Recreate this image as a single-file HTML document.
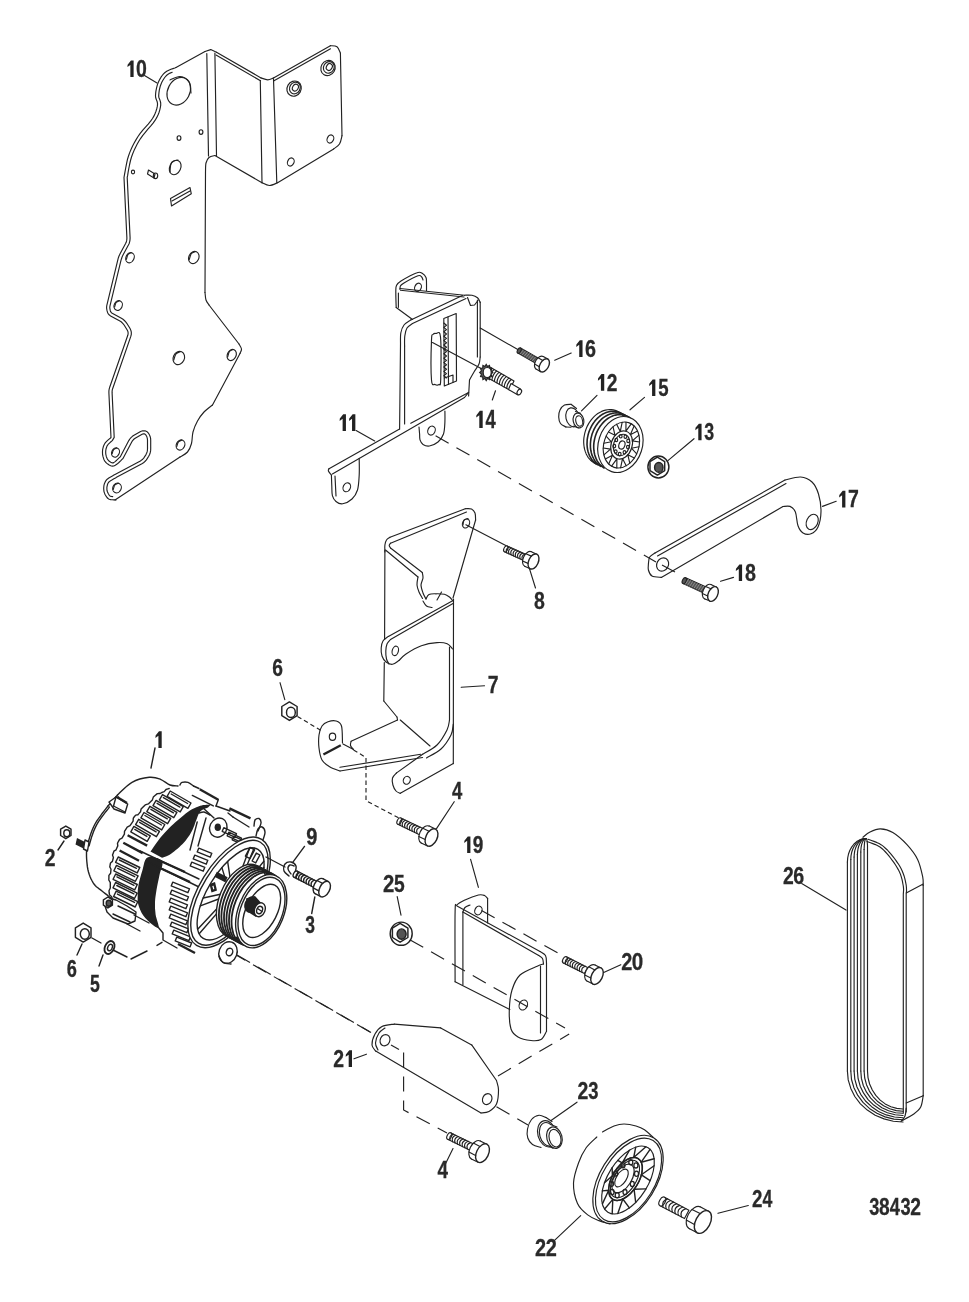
<!DOCTYPE html>
<html><head><meta charset="utf-8"><style>
html,body{margin:0;padding:0;background:#fff;}
svg{display:block;will-change:transform}
.lk{fill:none;stroke:#222;stroke-width:2.4;stroke-linecap:butt}
.gd{fill:#555;stroke:#222;stroke-width:1.1}
.lt{fill:none;stroke:#999;stroke-width:0.8}
.l{fill:none;stroke:#222;stroke-width:1.15;stroke-linejoin:round;stroke-linecap:round}
.lf{fill:#fff;stroke:#222;stroke-width:1.15;stroke-linejoin:round}
.k{fill:#222;stroke:none}
.g{fill:#666;stroke:#222;stroke-width:1}
.d{fill:none;stroke:#222;stroke-width:1.15;stroke-dasharray:15 9}
.alt .l,.alt .lf{stroke-width:1.4}
.ds{fill:none;stroke:#222;stroke-width:1.15;stroke-dasharray:4.5 3}
.t{font-family:"Liberation Sans",sans-serif;font-weight:bold;fill:#2a2a2a;stroke:#2a2a2a;stroke-width:0.3}
</style></head><body>
<svg width="969" height="1302" viewBox="0 0 969 1302">
<path class="l" d="M216.5 52.3L261 77.9"/>
<path class="l" d="M261 77.9C262.1 78.2 265.6 79.8 267.7 79.8C269.8 79.8 272.5 78.2 273.5 77.9"/>
<path class="l" d="M273.5 77.9L330.4 45.7"/>
<path class="l" d="M330.4 45.7C331.5 45.9 335.3 45.6 337 46.8C338.7 48 339.8 52 340.4 53"/>
<path class="l" d="M340.4 53L342 135.7"/>
<path class="l" d="M342 135.7C341.6 137.1 340.9 141.8 339.5 144C338.1 146.2 334.7 148.1 333.7 148.9"/>
<path class="l" d="M333.7 148.9L277.6 182.7"/>
<path class="l" d="M277.6 182.7C276.2 183.2 272 185.5 269.4 185.5C266.8 185.5 263.2 183.2 262 182.7"/>
<path class="l" d="M262 182.7L214.9 155.5"/>
<path class="l" d="M214.9 155.5C213.9 155.8 210.5 156.2 209 157.5C207.5 158.8 206.6 160.6 206 163C205.4 165.4 205.6 170.5 205.5 172"/>
<path class="l" d="M205.5 172L205 292.5"/>
<path class="l" d="M205 292.5C205.2 293.8 205.3 297.9 206 300C206.7 302.1 208.5 304.2 209 305"/>
<path class="l" d="M209 305L239 344"/>
<path class="l" d="M239 344C239.4 344.8 241.3 347.4 241.5 349C241.7 350.6 240.2 352.8 240 353.5"/>
<path class="l" d="M240 353.5L212.5 405"/>
<path class="l" d="M212.5 405C211.1 406.2 206.5 409.3 204 412C201.5 414.7 199.3 417.7 197.5 421C195.7 424.3 194 428.2 193 432C192 435.8 192.4 440.2 191.5 443.5C190.6 446.8 189.4 449.8 187.5 452C185.6 454.2 181.2 456.2 180 457"/>
<path class="l" d="M180 457L115 500"/>
<path class="l" d="M205 51.5L176 67.5"/>
<path class="l" d="M210.7 49.6L205 51.5"/>
<path class="l" d="M216.5 52.3L210.7 49.6"/>
<path class="l" d="M176 67.5L174.8 68L173 68.6L170.9 69.3L168.8 70.2L166.7 71.3L165 72.5L163.5 73.9L162.2 75.5L161 77.2L159.9 79.1L158.9 81L158 83L157.3 85.1L156.7 87.3L156.2 89.6L155.8 91.9L155.6 94L155.5 96L155.7 97.7L156.1 99.1L156.7 100.5L157.2 101.8L157.5 103.3L157.5 105L157.2 106.9L156.7 109L156 111.2L155.1 113.5L154 115.9L152.5 118.5L150.6 121.2L148.2 124.1L145.5 127.1L142.8 130.2L140.2 133.4L138 136.5L136.1 139.6L134.3 142.8L132.6 146L131.1 149.3L129.7 152.6L128.5 156L127.4 159.7L126.5 163.8L125.7 168L125 171.9L124.4 175.1L124 177.5L126.9 238L126.8 239.5L126.6 240.9L126.2 242.3L125.6 243.6L120.2 253.6L119.5 254.9L118.9 256.3L118.4 257.7L118 259.2L107 304.6L106.7 306L106.6 307.5L106.7 309L107 310.4L107.3 311.6L107.8 313L108.5 314.1L109.4 315.1L110.6 315.9L119.9 321.1L121.1 321.8L122.2 322.8L123.2 323.8L124.1 325L127.2 330L127.8 331.2L128.1 332.6L128.1 333.9L127.8 335.3L109.7 387.2L109.3 388.6L109 390L108.9 391.5L108.9 393L111 437.5L110.2 438.2L109.1 439.1L107.9 440.2L106.6 441.4L105.4 442.7L104.5 444L103.8 445.4L103.3 446.8L102.9 448.3L102.6 449.9L102.5 451.5L102.5 453L102.6 454.6L102.9 456.2L103.4 457.8L103.9 459.4L104.6 460.8L105.5 462L106.6 463.1L107.8 464.1L109.2 465L110.7 465.7L112.3 466.1L113.8 466L115.3 465.3L117.1 464.1L118.9 462.5L120.6 460.9L122 459.4L123 458.5L131.6 442.2L132.4 440.9L133.3 439.8L134.4 438.8L135.6 438L142.1 434.3L143.3 433.9L144.3 433.9L145.2 434.3L146 435.2L146 435.2L146.7 436.4L147.1 437.6L147.4 438.9L147.5 440.2L147.5 449L147.4 450.5L147.1 451.9L146.6 453.3L146 454.6L144.5 456.9L143.7 458.1L142.7 459.2L141.6 460.1L140.4 460.9L115 474.5L113.9 475.1L112.4 475.9L110.6 476.9L108.8 478L107.2 479.2L106 480.5L105.2 481.9L104.5 483.4L104 485.1L103.8 486.8L103.7 488.4L103.8 490L104 491.6L104.5 493.2L105.2 494.8L106.1 496.2L107 497.5L108 498.5L109.2 499.2L110.7 499.6L112.3 499.8L113.8 499.9L115.1 499.9L116 500"/>
<path class="l" d="M172.2 72.3L170.1 73.1L168.4 74L167 75L165.9 76.1L164.7 77.5L163.7 79L162.6 80.7L161.7 82.4L161 84.2L160.3 86L159.8 88L159.3 90.2L159 92.3L158.8 94.3L158.7 96L158.8 97.1L159.1 98L159.6 99.3L160.2 100.9L160.7 103L160.7 105.3L160.3 107.6L159.8 109.8L159.1 112.2L158.1 114.8L156.8 117.4L155.2 120.2L153.1 123.2L150.6 126.2L147.9 129.2L145.3 132.3L142.8 135.3L140.7 138.3L138.8 141.3L137.1 144.3L135.5 147.4L134 150.6L132.7 153.8L131.5 157L130.5 160.5L129.6 164.5L128.8 168.5L128.1 172.4L127.6 175.7L127.2 177.4L130.1 237.9L130 239.8L129.7 241.6L129.2 243.4L128.4 245.1L123 255.1L122.4 256.3L121.9 257.5L121.5 258.7L121.1 259.9L110.1 305.3L109.9 306.4L109.8 307.5L109.9 308.6L110.1 309.7L110.3 310.7L110.6 311.6L111 312.2L111.5 312.7L112.2 313.2L121.4 318.3L123 319.3L124.4 320.5L125.7 321.8L126.8 323.3L129.9 328.3L130.8 330.2L131.3 332.2L131.3 334.3L130.8 336.4L112.8 388.2L112.4 389.4L112.2 390.5L112.1 391.7L112.1 392.9L114.2 437.4L112.3 440.6L111.2 441.5L110 442.6L108.9 443.7L107.9 444.7L107.3 445.6L106.8 446.6L106.4 447.8L106 449L105.8 450.3L105.7 451.6L105.7 452.8L105.8 454.1L106.1 455.5L106.4 456.9L106.9 458.1L107.4 459.1L108 459.9L108.7 460.7L109.7 461.5L110.8 462.2L111.8 462.7L112.6 462.9L113 462.9L113.7 462.6L115.1 461.6L116.7 460.2L118.3 458.6L119.8 457.2L120.2 456.9L128.8 440.6L129.8 439L131 437.6L132.4 436.3L134 435.3L140.6 431.5L142.6 430.8L145 430.8L147.2 431.8L148.4 433.1L148.8 433.7L149.5 435L150.2 436.7L150.6 438.4L150.7 440.2L150.7 449L150.6 450.9L150.2 452.7L149.6 454.5L148.7 456.2L147.2 458.6L146.2 460.1L144.9 461.5L143.5 462.7L141.9 463.7L116.5 477.3L115.5 477.9L113.9 478.7L112.3 479.7L110.6 480.7L109.3 481.6L108.5 482.5L108 483.3L107.5 484.5L107.2 485.8L106.9 487.1L106.9 488.5L106.9 489.6L107.1 490.8L107.5 492L108.1 493.3L108.8 494.5L109.4 495.4L109.9 495.9L110.4 496.2L111.3 496.4L112.7 496.6"/>
<path class="l" d="M216 55L260.5 80.8"/>
<path class="l" d="M274 80.8L330.5 48.8"/>
<path class="l" d="M206.8 53.5L208.5 156"/>
<path class="l" d="M214.9 53L216.5 155.5"/>
<path class="l" d="M260.3 80.5L262 182.7"/>
<path class="l" d="M273.5 78.7L276.8 182.7"/>
<ellipse class="l" cx="178.8" cy="91.3" rx="11.0" ry="14.5" transform="rotate(28 178.8 91.3)"/>
<path class="l" d="M170 80C171.7 79.4 176.8 76.2 180 76.5C183.2 76.8 187.2 79.2 189 82C190.8 84.8 190.7 91.2 191 93"/>
<ellipse class="l" cx="179.0" cy="138.0" rx="1.9" ry="2.3"/>
<ellipse class="l" cx="201.0" cy="132.0" rx="1.9" ry="2.3"/>
<ellipse class="l" cx="133.0" cy="172.0" rx="1.6" ry="1.9"/>
<path class="l" d="M148.5 170L155 174L154 178L147.5 174Z"/>
<ellipse class="l" cx="155.5" cy="175.8" rx="2.2" ry="2.8"/>
<ellipse class="l" cx="175.2" cy="167.5" rx="5.5" ry="7.5" transform="rotate(25 175.2 167.5)"/>
<path class="l" d="M170 172C170.2 170.4 170.2 164.5 171.5 162.5C172.8 160.5 176.9 160.4 178 160"/>
<path class="l" d="M170.5 198.5L190 187.5L191.3 193.8L171.5 206Z"/>
<path class="l" d="M172 201L190 191"/>
<ellipse class="l" cx="130.0" cy="257.7" rx="4.0" ry="5.3" transform="rotate(25 130 257.7)"/>
<path class="l" d="M126.4 259.3C126.7 258.5 127.2 255.6 128 254.5C128.8 253.4 130.7 253 131.2 252.7"/>
<ellipse class="l" cx="193.8" cy="257.5" rx="5.0" ry="6.3" transform="rotate(25 193.8 257.5)"/>
<path class="l" d="M189.3 259.4C189.6 258.4 190.3 255 191.3 253.7C192.3 252.4 194.6 251.9 195.3 251.5"/>
<ellipse class="l" cx="118.2" cy="305.5" rx="4.0" ry="5.0" transform="rotate(25 118.2 305.5)"/>
<path class="l" d="M114.6 307C114.9 306.2 115.4 303.5 116.2 302.5C117 301.5 118.9 301 119.4 300.8"/>
<ellipse class="l" cx="178.8" cy="358.0" rx="5.6" ry="6.8" transform="rotate(25 178.8 358)"/>
<path class="l" d="M173.8 360C174.1 359 174.9 355.3 176 353.9C177.1 352.5 179.7 351.9 180.5 351.5"/>
<ellipse class="l" cx="231.7" cy="355.0" rx="4.4" ry="5.8" transform="rotate(25 231.7 355)"/>
<path class="l" d="M227.7 356.7C228 355.9 228.6 352.7 229.5 351.5C230.4 350.3 232.4 349.8 233 349.5"/>
<ellipse class="l" cx="115.5" cy="452.5" rx="3.8" ry="4.8" transform="rotate(25 115.5 452.5)"/>
<path class="l" d="M112.1 453.9C112.3 453.2 112.8 450.6 113.6 449.6C114.4 448.6 116.1 448.2 116.6 447.9"/>
<ellipse class="l" cx="117.0" cy="488.0" rx="4.2" ry="5.0" transform="rotate(25 117 488)"/>
<path class="l" d="M113.2 489.5C113.5 488.8 114.1 486 114.9 485C115.7 484 117.7 483.5 118.3 483.2"/>
<ellipse class="l" cx="180.5" cy="445.0" rx="4.2" ry="5.2" transform="rotate(25 180.5 445)"/>
<path class="l" d="M176.7 446.6C177 445.8 177.6 443 178.4 441.9C179.2 440.8 181.2 440.4 181.8 440.1"/>
<ellipse class="l" cx="294.1" cy="88.6" rx="7.0" ry="7.8" transform="rotate(30 294.1 88.6)"/>
<ellipse class="l" cx="294.9" cy="88.0" rx="5.2" ry="6.0" transform="rotate(30 294.90000000000003 88.0)"/>
<ellipse class="l" cx="295.4" cy="87.6" rx="2.8" ry="3.6" transform="rotate(30 295.40000000000003 87.6)"/>
<ellipse class="l" cx="328.0" cy="68.0" rx="7.0" ry="7.8" transform="rotate(30 328 68)"/>
<ellipse class="l" cx="328.8" cy="67.4" rx="5.2" ry="6.0" transform="rotate(30 328.8 67.4)"/>
<ellipse class="l" cx="329.3" cy="67.0" rx="2.8" ry="3.6" transform="rotate(30 329.3 67)"/>
<ellipse class="l" cx="330.4" cy="139.0" rx="3.2" ry="4.2" transform="rotate(25 330.4 139)"/>
<ellipse class="l" cx="290.8" cy="162.0" rx="3.2" ry="4.2" transform="rotate(25 290.8 162)"/>
<path class="l" d="M144.5 75.5L157 83"/>
<path class="k" d="M130.36 77.00L133.62 77.00L133.62 60.60L130.96 60.60L127.60 64.75L127.40 67.12L130.36 64.95Z"/>
<text class="t" transform="translate(135.97 76.77) scale(0.841 1)" font-size="23.16">0</text>
<path class="l" d="M396.2 307.5C396.1 304.9 395.8 295.7 395.8 292C395.9 288.3 395.6 287.3 396.5 285.5C397.4 283.7 397.6 283.1 401 281C404.4 278.9 413.4 273.9 417 272.7C420.6 271.4 421 272.7 422.5 273.5C424 274.3 425.3 275.9 426 277.5C426.7 279.1 426.4 280.8 426.5 283C426.6 285.2 426.5 289.2 426.5 290.5"/>
<path class="l" d="M400 289.5C400.1 288.9 399.8 286.9 400.5 285.8C401.2 284.7 401.1 284.7 404 283C406.9 281.3 415.1 276.8 418 275.8C420.9 274.8 420.7 276.1 421.5 276.8C422.3 277.5 422.8 279.5 423 280"/>
<path class="l" d="M398.4 293L398.4 307.3"/>
<path class="l" d="M396.2 307.5L412.5 319.5"/>
<ellipse class="l" cx="418.0" cy="287.3" rx="3.2" ry="4.3" transform="rotate(25 418 287.3)"/>
<path class="l" d="M400 288.5L464.5 295.2"/>
<path class="l" d="M400.5 290.3L464 297"/>
<path class="l" d="M464.5 295.2C465.8 295.2 469.8 294.9 472 295.3C474.2 295.7 476.1 296.6 477.5 297.8C478.9 299 479.8 301.7 480.2 302.5"/>
<path class="l" d="M467.5 297.5L470.5 305.5L474.5 305L478 300.5"/>
<path class="l" d="M410.8 319.9L462.4 295.5"/>
<path class="l" d="M412.5 323.5L466 298.5"/>
<path class="l" d="M410.8 319.9C409.7 320.8 405.7 322.8 404 325C402.3 327.2 401.4 329.7 400.8 333C400.2 336.3 400.6 343 400.5 345"/>
<path class="l" d="M400.5 345L399.6 429"/>
<path class="l" d="M412.5 323.5C411.6 324.2 408.3 325.9 407 328C405.7 330.1 405.2 333 404.8 336C404.4 339 404.6 344.3 404.6 346"/>
<path class="l" d="M404.6 346L404.6 424"/>
<path class="l" d="M477.4 300L477.4 357"/>
<path class="l" d="M480.2 302L480.2 357"/>
<path class="l" d="M480.2 357C480 358.2 480 361.5 479 364C478 366.5 475.6 369.3 474 372C472.4 374.7 470.2 378.7 469.5 380"/>
<path class="l" d="M469.5 380L468.6 396"/>
<path class="l" d="M468.6 392.4L410.8 423.3"/>
<path class="l" d="M399.6 429L329 468.7"/>
<path class="l" d="M464.5 397.5L332.4 474"/>
<path class="l" d="M468.6 392.4L464.5 397.5"/>
<path class="l" d="M329 468.7C328.9 469.1 328 469.9 328.4 471C328.8 472.1 330.9 474.3 331.4 475"/>
<path class="l" d="M331.4 475C331.5 476.8 331.6 482.6 331.8 486C332 489.4 331.7 493 332.4 495.6C333.1 498.2 334.3 500.1 336 501.5C337.7 502.9 340 504.2 342.7 503.8C345.4 503.4 349.5 501.3 352 499C354.5 496.7 356.3 494 357.5 490C358.7 486 358.9 480.3 359.2 475C359.5 469.7 359.2 461.2 359.2 458.4"/>
<path class="l" d="M335 476L336 496"/>
<ellipse class="l" cx="346.8" cy="487.3" rx="3.6" ry="4.6" transform="rotate(25 346.8 487.3)"/>
<path class="l" d="M419 427C419.1 428.2 419.4 431.9 419.6 434C419.8 436.1 419.4 438.1 420 439.9C420.6 441.6 421.4 443.5 423 444.5C424.6 445.5 426.9 446.4 429.4 446C431.9 445.6 435.6 444 438 442C440.4 440 442.4 437.3 443.5 434C444.6 430.7 444.7 425.8 444.9 422C445.1 418.2 444.9 412.8 444.9 411"/>
<ellipse class="l" cx="431.5" cy="430.6" rx="3.6" ry="4.6" transform="rotate(25 431.5 430.6)"/>
<path class="l" d="M431.5 340C431.8 332.4 432.2 335.6 433 334.5C433.8 333.4 434.8 333.1 436 333.5C437.2 333.9 439.7 329.2 440.5 337C441.3 344.8 440.9 372.1 440.7 380C440.4 387.9 439.9 383.8 439 384.5C438.1 385.2 436.2 385.2 435 384.5C433.8 383.8 432.1 387.4 431.5 380C430.9 372.6 431.2 347.6 431.5 340Z"/>
<path class="l" d="M443.8 318.5L456.2 313.5L456.5 381L444.3 386Z"/>
<path class="l" d="M448 317L448.5 384.5"/>
<path class="l" d="M443.8 323L446.5 325.2L443.8 327.4L446.5 329.6L443.8 331.8L446.5 334L443.8 336.2L446.5 338.4L443.8 340.6L446.5 342.8L443.8 345L446.5 347.2L443.8 349.4L446.5 351.6L443.8 353.8L446.5 356L443.8 358.2L446.5 360.4L443.8 362.6L446.5 364.8L443.8 367L446.5 369.2L443.8 371.4L446.5 373.6L443.8 375.8L446.5 378"/>
<path class="l" d="M444.3 378L453 375L453 382.5"/>
<path class="l" d="M432.5 342.6L483 369.4"/>
<path class="l" d="M480.2 328L517.8 349.5"/>
<path class="lf" d="M489 366.5L514 381L509.5 390L484.5 376Z"/>
<path class="l" d="M491.6 368.1Q487.4 371.7 487.1 377.0"/>
<path class="l" d="M494.1 369.5Q489.9 373.1 489.5 378.4"/>
<path class="l" d="M496.6 371.0Q492.4 374.6 492.0 379.9"/>
<path class="l" d="M499.0 372.4Q494.8 376.0 494.4 381.3"/>
<path class="l" d="M501.4 373.8Q497.2 377.4 496.9 382.7"/>
<path class="l" d="M503.9 375.2Q499.7 378.8 499.3 384.1"/>
<path class="l" d="M506.3 376.6Q502.1 380.2 501.8 385.5"/>
<path class="l" d="M508.8 378.1Q504.6 381.7 504.2 387.0"/>
<path class="l" d="M511.2 379.5Q507.1 383.1 506.7 388.4"/>
<path class="gd" d="M492.8 372.5L491 374.1L491.9 376.6L489.7 376.9L489.5 379.6L487.5 378.5L486.2 380.7L484.9 378.5L482.9 379.6L482.7 376.9L480.5 376.6L481.4 374.1L479.6 372.5L481.4 370.9L480.5 368.4L482.7 368.1L482.9 365.4L484.9 366.5L486.2 364.3L487.5 366.5L489.5 365.4L489.7 368.1L491.9 368.4L491 370.9Z"/>
<ellipse class="lf" cx="487.2" cy="372.5" rx="4.0" ry="5.0"/>
<path class="lf" d="M511 383.5L520.5 389L518 395L508.5 389.5Z"/>
<ellipse class="lf" cx="519.3" cy="392.0" rx="2.0" ry="3.0" transform="rotate(30 519.3 392)"/>
<path class="l" d="M495.5 390.8L492.3 400"/>
<path class="gd" d="M517.8 353.1L536.1 363.5L538.9 358.5L520.6 348.1Z"/>
<ellipse class="gd" cx="519.2" cy="350.6" rx="1.7" ry="2.9" transform="rotate(29.609829621271984 519.2 350.6)"/>
<path class="lt" d="M519.8 354.3L523.5 349.7"/>
<path class="lt" d="M521.8 355.4L525.6 350.9"/>
<path class="lt" d="M523.9 356.6L527.6 352"/>
<path class="lt" d="M525.9 357.7L529.6 353.2"/>
<path class="lt" d="M527.9 358.9L531.7 354.4"/>
<path class="lt" d="M530 360.1L533.7 355.5"/>
<path class="lt" d="M532 361.2L535.7 356.7"/>
<path class="lt" d="M534 362.4L537.8 357.8"/>
<ellipse class="lf" cx="539.6" cy="362.7" rx="4.3" ry="7.2" transform="rotate(29.609829621271984 539.6051850473804 362.73190844222705)"/>
<path class="lf" d="M536 369L540.7 371.7L547.9 359.1L543.2 356.5Z" style="stroke:none"/>
<path class="l" d="M536 369L540.7 371.7"/>
<path class="l" d="M543.2 356.5L547.9 359.1"/>
<ellipse class="lf" cx="544.3" cy="365.4" rx="4.3" ry="7.2" transform="rotate(29.609829621271984 544.3 365.4)" style="stroke-width:1.4"/>
<path class="l" d="M534.6 364L539.3 366.7"/>
<path class="l" d="M538.1 357.7L542.8 360.4"/>
<path class="l" d="M554.7 360.2L571.2 353"/>
<path class="k" d="M579.22 357.00L582.54 357.00L582.54 340.30L579.82 340.30L576.40 344.53L576.20 346.94L579.22 344.73Z"/>
<text class="t" transform="translate(585.12 356.76) scale(0.838 1)" font-size="23.59">6</text>
<path class="l" d="M356.1 430.6L374.7 440.9"/>
<path class="k" d="M342.62 431.00L345.94 431.00L345.94 414.30L343.22 414.30L339.80 418.53L339.60 420.94L342.62 418.73Z"/>
<path class="k" d="M352.04 431.00L355.36 431.00L355.36 414.30L352.64 414.30L349.22 418.53L349.02 420.94L352.04 418.73Z"/>
<path class="k" d="M479.29 427.90L482.69 427.90L482.69 410.80L479.91 410.80L476.41 415.13L476.20 417.60L479.29 415.33Z"/>
<text class="t" transform="translate(485.57 427.90) scale(0.739 1)" font-size="24.85">4</text>
<path class="d" d="M435.6 435.7L656 562"/>
<path class="l" d="M571 404.3C569.9 404.4 566.3 404.1 564.5 405C562.7 405.9 561 408 560 410C559 412 558.6 414.8 558.7 417C558.8 419.2 559.3 421.8 560.5 423.5C561.7 425.2 565.1 426.4 566 427"/>
<path class="l" d="M571 404.3L576.5 408.5"/>
<path class="l" d="M566 427L571 427.2"/>
<ellipse class="lf" cx="572.5" cy="417.3" rx="6.6" ry="9.6" transform="rotate(-12 572.5 417.3)"/>
<path class="lf" d="M575.5 411.5L580.5 413.5L579 427.8L573.5 426.5Z" style="stroke:none"/>
<path class="l" d="M575.5 411.5L580.5 413.3"/>
<path class="l" d="M573.5 426.2L578.5 427.8"/>
<ellipse class="lf" cx="578.5" cy="420.5" rx="5.3" ry="7.5" transform="rotate(-12 578.5 420.5)"/>
<ellipse class="l" cx="579.2" cy="421.0" rx="3.4" ry="5.3" transform="rotate(-12 579.2 421)"/>
<path class="l" d="M581.5 410.8L597 395.3"/>
<path class="k" d="M600.92 390.70L604.24 390.70L604.24 374.00L601.52 374.00L598.10 378.23L597.90 380.64L600.92 378.43Z"/>
<text class="t" transform="translate(606.78 390.70) scale(0.804 1)" font-size="23.93">2</text>
<path class="l" d="M595.8 463.9L594.1 463L592.5 461.9L591 460.6L589.6 459.2L588.3 457.6L587.2 455.8L586.2 453.9L585.4 451.9L584.7 449.7L584.2 447.5L583.9 445.2L583.7 442.8L583.7 440.4L583.9 437.9L584.3 435.5L584.8 433.1L585.5 430.7L586.3 428.4L587.3 426.1L588.5 423.9L589.8 421.8L591.2 419.9L592.7 418.1L594.3 416.4L596 414.9L597.8 413.5L599.7 412.4L601.6 411.4L603.6 410.6L605.5 410.1L607.5 409.7L609.5 409.6L611.4 409.6L613.3 409.9L615.2 410.4L617 411.1L618.7 412L620.3 413.1L621.8 414.4L623.2 415.8L624.5 417.4L625.6 419.2"/>
<path class="l" d="M597.4 464.7L595.8 463.6L594.3 462.3L592.9 460.9L591.6 459.2L590.5 457.5L589.5 455.6L588.7 453.5L588 451.4L587.5 449.1L587.2 446.8L587 444.5L587.1 442L587.2 439.6L587.6 437.2L588.1 434.8L588.8 432.4L589.7 430L590.7 427.8L591.8 425.6L593.1 423.5L594.5 421.6L596 419.7L597.6 418.1L599.4 416.5L601.2 415.2L603 414L604.9 413.1L606.9 412.3L608.9 411.7L610.9 411.4L612.8 411.2L614.8 411.3L616.7 411.6L618.5 412.1L620.3 412.8L622 413.7L623.7 414.7L625.2 416L626.6 417.5" style="stroke-width:1.6"/>
<path class="l" d="M600.8 466.3L599.1 465.3L597.6 464L596.2 462.5L595 460.9L593.9 459.1L592.9 457.2L592 455.2L591.4 453L590.9 450.8L590.5 448.5L590.4 446.1L590.4 443.7L590.6 441.3L590.9 438.8L591.5 436.4L592.1 434L593 431.7L594 429.4L595.1 427.3L596.4 425.2L597.8 423.2L599.4 421.4L601 419.7L602.7 418.2L604.5 416.9L606.4 415.7L608.3 414.7L610.2 414L612.2 413.4L614.2 413L616.2 412.9L618.1 413L620 413.2L621.9 413.7L623.7 414.4L625.4 415.3L627 416.4L628.5 417.7L629.9 419.1" style="stroke-width:1.6"/>
<path class="l" d="M604.1 468L602.5 466.9L601 465.6L599.6 464.2L598.3 462.6L597.2 460.8L596.2 458.9L595.4 456.9L594.7 454.7L594.2 452.5L593.9 450.2L593.7 447.8L593.7 445.4L593.9 442.9L594.3 440.5L594.8 438.1L595.5 435.7L596.3 433.4L597.3 431.1L598.5 428.9L599.8 426.8L601.2 424.9L602.7 423.1L604.3 421.4L606 419.9L607.8 418.5L609.7 417.4L611.6 416.4L613.6 415.6L615.5 415.1L617.5 414.7L619.5 414.6L621.4 414.6L623.3 414.9L625.2 415.4L627 416.1L628.7 417L630.3 418.1L631.8 419.4L633.2 420.8" style="stroke-width:1.6"/>
<path class="l" d="M624.5 417.4L638.5 424.4"/>
<path class="l" d="M591 460.6L605 467.6"/>
<ellipse class="lf" cx="620.4" cy="444.5" rx="22.0" ry="28.5" transform="rotate(18 620.4 444.5)"/>
<ellipse class="l" cx="621.4" cy="445.0" rx="17.5" ry="23.5" transform="rotate(18 621.4 445.0)"/>
<ellipse class="l" cx="621.6" cy="445.0" rx="10.5" ry="14.5" transform="rotate(18 621.6 445.0)"/>
<ellipse class="l" cx="621.6" cy="445.0" rx="8.0" ry="11.0" transform="rotate(18 621.6 445.0)"/>
<ellipse class="l" cx="621.9" cy="445.0" rx="3.0" ry="4.2" transform="rotate(18 621.9 445.0)"/>
<path class="l" d="M639 446.8L631.4 448.2L636.7 453.8"/>
<path class="l" d="M634.3 458.1L627.8 454.7L629.8 463.3"/>
<path class="l" d="M626.2 465.8L622.5 458.6L620.6 467.8"/>
<path class="l" d="M616.8 467.9L616.9 458.8L611.6 466.2"/>
<path class="l" d="M608.7 463.9L612.5 455.3L605.3 459"/>
<path class="l" d="M603.9 454.9L610.5 449.1L603.3 448"/>
<path class="l" d="M603.8 443.2L611.4 441.8L606.1 436.2"/>
<path class="l" d="M608.5 431.9L615 435.3L613 426.7"/>
<path class="l" d="M616.6 424.2L620.3 431.4L622.2 422.2"/>
<path class="l" d="M626 422.1L625.9 431.2L631.2 423.8"/>
<path class="l" d="M634.1 426.1L630.3 434.7L637.5 431"/>
<path class="l" d="M638.9 435.1L632.3 440.9L639.5 442"/>
<ellipse class="l" cx="627.9" cy="447.1" rx="1.4" ry="1.7"/>
<ellipse class="l" cx="624.5" cy="452.3" rx="1.4" ry="1.7"/>
<ellipse class="l" cx="619.7" cy="454.1" rx="1.4" ry="1.7"/>
<ellipse class="l" cx="615.7" cy="451.6" rx="1.4" ry="1.7"/>
<ellipse class="l" cx="614.3" cy="446.1" rx="1.4" ry="1.7"/>
<ellipse class="l" cx="616.3" cy="440.0" rx="1.4" ry="1.7"/>
<ellipse class="l" cx="620.7" cy="436.3" rx="1.4" ry="1.7"/>
<ellipse class="l" cx="625.4" cy="436.7" rx="1.4" ry="1.7"/>
<ellipse class="l" cx="628.2" cy="440.9" rx="1.4" ry="1.7"/>
<path class="l" d="M630 409.8L644.5 397.4"/>
<path class="k" d="M652.08 396.00L655.36 396.00L655.36 379.50L652.68 379.50L649.30 383.67L649.10 386.06L652.08 383.87Z"/>
<text class="t" transform="translate(658.28 395.76) scale(0.787 1)" font-size="23.64">5</text>
<ellipse class="lf" cx="658.4" cy="467.0" rx="10.5" ry="11.0" style="stroke-width:1.45"/>
<path class="lf" d="M664.7 470.6L657.4 475.1L650 470.6L650 461.7L657.4 457.2L664.7 461.7Z" style="stroke-width:1.45"/>
<ellipse class="gd" cx="658.8" cy="467.4" rx="4.2" ry="4.9" style="stroke-width:1.45"/>
<path class="l" d="M668.2 460.4L694 438.7"/>
<path class="k" d="M698.28 440.20L701.56 440.20L701.56 423.70L698.88 423.70L695.50 427.87L695.30 430.26L698.28 428.07Z"/>
<text class="t" transform="translate(704.23 439.94) scale(0.766 1)" font-size="23.27">3</text>
<path class="l" d="M648.5 563C648.7 562 648.6 558.7 649.7 557C650.8 555.3 654.1 553.7 655 553"/>
<path class="l" d="M655 553L785 480"/>
<path class="l" d="M657.5 556L786 483.5"/>
<path class="l" d="M785 480C787.6 479.5 796.1 476.7 800.6 477C805.1 477.3 809 479.2 812 482C815 484.8 817 489.1 818.5 494C820 498.9 821.1 506.1 821 511.6C820.9 517.1 819.7 523.3 818 527C816.3 530.7 813.5 532.8 811 533.8C808.5 534.8 805.2 534.3 803 533C800.8 531.7 799.3 529.3 798 525.8C796.7 522.3 796.7 515.2 795.4 512C794.1 508.8 792.1 507.3 790 506.4C787.9 505.5 784.2 506.5 783 506.5"/>
<path class="l" d="M783 506.5L661.3 577.4"/>
<path class="l" d="M661.3 577.4C659.8 577.2 654.1 577.2 652 576C649.9 574.8 649 572.2 648.4 570C647.8 567.8 648.5 564.2 648.5 563"/>
<ellipse class="l" cx="662.6" cy="564.5" rx="5.8" ry="6.8" transform="rotate(30 662.6 564.5)"/>
<ellipse class="l" cx="812.2" cy="521.9" rx="5.6" ry="8.0" transform="rotate(25 812.2 521.9)"/>
<path class="l" d="M822.5 506.4L836.2 501.3"/>
<path class="k" d="M842.10 507.40L845.40 507.40L845.40 490.80L842.70 490.80L839.30 495.00L839.10 497.40L842.10 495.20Z"/>
<text class="t" transform="translate(847.91 507.40) scale(0.808 1)" font-size="24.13">7</text>
<path class="gd" d="M683 583.6L704.7 593.4L707.3 587.6L685.6 577.8Z"/>
<ellipse class="gd" cx="684.3" cy="580.7" rx="1.9" ry="3.2" transform="rotate(24.304549265936576 684.3 580.7)"/>
<path class="lt" d="M685.2 584.6L688.7 579.2"/>
<path class="lt" d="M687.3 585.6L690.9 580.2"/>
<path class="lt" d="M689.5 586.6L693 581.1"/>
<path class="lt" d="M691.7 587.5L695.2 582.1"/>
<path class="lt" d="M693.8 588.5L697.4 583.1"/>
<path class="lt" d="M696 589.5L699.5 584.1"/>
<path class="lt" d="M698.2 590.5L701.7 585.1"/>
<path class="lt" d="M700.3 591.5L703.9 586"/>
<path class="lt" d="M702.5 592.4L706.1 587"/>
<ellipse class="lf" cx="707.7" cy="591.6" rx="4.7" ry="7.8" transform="rotate(24.304549265936576 707.6684819919967 591.592217673805)"/>
<path class="lf" d="M704.5 598.7L709.8 601.1L716.2 586.9L710.9 584.5Z" style="stroke:none"/>
<path class="l" d="M704.5 598.7L709.8 601.1"/>
<path class="l" d="M710.9 584.5L716.2 586.9"/>
<ellipse class="lf" cx="713.0" cy="594.0" rx="4.7" ry="7.8" transform="rotate(24.304549265936576 713 594)" style="stroke-width:1.4"/>
<path class="l" d="M702.4 593.5L707.7 595.9"/>
<path class="l" d="M705.6 586.4L710.9 588.8"/>
<path class="l" d="M720.6 581.3L733.5 577.4"/>
<path class="k" d="M738.80 581.10L742.10 581.10L742.10 564.50L739.40 564.50L736.00 568.70L735.80 571.10L738.80 568.90Z"/>
<text class="t" transform="translate(744.97 580.87) scale(0.839 1)" font-size="23.45">8</text>
<path class="d" d="M662 565L675 572"/>
<path class="l" d="M384.9 552C384.9 550.8 384.6 547 384.9 545C385.2 543 385.6 541.3 386.5 540C387.4 538.7 389.4 537.8 390 537.3"/>
<path class="l" d="M390 537.3L465.3 508.7"/>
<path class="l" d="M465.3 508.7C466.3 508.8 469.9 508.3 471.5 509C473.1 509.7 474.3 511.2 475 513C475.7 514.8 475.5 518.8 475.6 520"/>
<path class="l" d="M475.6 520L453 598"/>
<path class="l" d="M390.5 543.2L466.5 512"/>
<path class="l" d="M390.5 543.2C390.3 543.6 389.2 544.7 389.2 545.5C389.2 546.3 390.3 547.6 390.5 548"/>
<path class="l" d="M390.5 548L422.3 572.5"/>
<path class="l" d="M385.5 550L418 577"/>
<path class="l" d="M422.3 572.5C422.4 573.4 423.2 575.9 423 578C422.8 580.1 421 582.5 421 585C421 587.5 422.2 590.7 423 593C423.8 595.3 425.5 598 426 599"/>
<path class="l" d="M418 577C417.8 578.3 416.8 582.5 417 585C417.2 587.5 418.1 589.8 419 592C419.9 594.2 421.9 597.4 422.5 598.5"/>
<path class="l" d="M426 599C426.5 598.2 427.3 595.4 429 594.5C430.7 593.6 433.4 593.8 436 593.8C438.6 593.8 442.1 593.7 444.4 594.2C446.6 594.7 448.1 595.9 449.5 597C450.9 598.1 452.4 600.3 453 601"/>
<path class="l" d="M423 601C423.6 601.8 425 604.9 426.5 606C428 607.1 431.1 607.2 432 607.5"/>
<path class="l" d="M437 600L441.5 592"/>
<ellipse class="l" cx="466.0" cy="523.5" rx="3.4" ry="4.6" transform="rotate(25 466 523.5)"/>
<path class="l" d="M463 525C463.2 524.2 463.2 521.1 464 520C464.8 518.9 467.3 518.8 468 518.5"/>
<path class="l" d="M384.9 550L384.6 639.5"/>
<path class="l" d="M384.3 662.5L383.8 701"/>
<path class="l" d="M383.8 701L397 717"/>
<path class="l" d="M397 717L397.5 720"/>
<path class="l" d="M453.5 599L453.3 763.6"/>
<path class="l" d="M449.5 647L449.5 720"/>
<path class="l" d="M453.5 600.3L388.4 636.4"/>
<path class="l" d="M388.4 636.4C387.5 637.2 384.2 639.1 383 641C381.8 642.9 381.4 645.5 381.2 648C381 650.5 381.2 653.7 382 656C382.8 658.3 384.2 660.6 386 662C387.8 663.4 390.3 664.5 392.5 664.3C394.7 664 397.9 661.1 399 660.5"/>
<path class="l" d="M399 660.5C400.2 659.4 402.3 656.5 406 654C409.7 651.5 416.2 647.6 421.4 645.7C426.6 643.8 432.7 642.9 437 642.6C441.3 642.3 444.6 642.7 447.2 643.7C449.8 644.7 451.5 647.9 452.4 648.8"/>
<path class="l" d="M453 603.6L390.5 639.5"/>
<path class="l" d="M390.5 639.5C389.9 640.2 387.8 642.1 387 644C386.2 645.9 385.9 648.5 385.8 651C385.7 653.5 386 656.8 386.5 659C387 661.2 388.6 663.2 389 664"/>
<ellipse class="l" cx="395.3" cy="650.9" rx="3.1" ry="4.8" transform="rotate(15 395.3 650.9)"/>
<path class="l" d="M449.5 720C449.1 721.7 449.1 725.8 447 730C444.9 734.2 441.1 741 437 745C432.9 749 425 752.8 422.6 754.3"/>
<path class="l" d="M453.3 724C452.9 725.8 453.1 730.8 451 735C448.9 739.2 445.1 745.2 441 749C436.9 752.8 428.9 756.5 426.5 758"/>
<path class="l" d="M422.6 754.3L396.6 772.9"/>
<path class="l" d="M396.6 772.9C395.9 773.8 393.1 776 392.5 778C391.9 780 392.3 782.8 392.9 785C393.5 787.2 394.8 789.6 396 791C397.2 792.4 399.6 792.9 400.3 793.3"/>
<path class="l" d="M400.3 793.3L453.3 763.6"/>
<ellipse class="l" cx="406.8" cy="780.3" rx="3.4" ry="4.0" transform="rotate(25 406.8 780.3)"/>
<path class="l" d="M400.3 720L430 746"/>
<path class="l" d="M397.5 720L351.1 741.3"/>
<path class="l" d="M351.1 741.3C351 742 350.1 744.1 350.5 745.5C350.9 746.9 353 748.8 353.5 749.5"/>
<path class="l" d="M343 744L353.5 749.5"/>
<path class="l" d="M340 767.3L420.7 754.3"/>
<path class="l" d="M340 771L422.6 757.5"/>
<path class="l" d="M340 771C338.3 770.3 333 768.8 330 767C327 765.2 323.8 763.2 322 760C320.2 756.8 319.5 752.2 319 748C318.5 743.8 318.5 738.7 319 735C319.5 731.3 320.5 728.2 322 726C323.5 723.8 325.7 722.6 328 721.8C330.3 721 333.8 720.3 336 721C338.2 721.7 340.4 722.3 341.5 726C342.6 729.7 342.3 740.2 342.5 743"/>
<path class="lk" d="M323.4 754.5L340.8 745.2"/>
<ellipse class="l" cx="332.5" cy="736.7" rx="3.2" ry="3.6"/>
<text class="t" transform="translate(487.77 692.90) scale(0.814 1)" font-size="23.84">7</text>
<path class="l" d="M461.2 687.3L484.5 685.8"/>
<path class="l" d="M465.9 524.8L507.7 546.4"/>
<path class="lf" d="M504.5 551.8L524.7 560.9L527.3 555.1L507.1 546Z"/>
<ellipse class="lf" cx="505.8" cy="548.9" rx="1.9" ry="3.2" transform="rotate(24.251328679253838 505.8 548.9)"/>
<path class="l" d="M506.7 552.8Q505.1 548.6 509.4 547.0"/>
<path class="l" d="M509.0 553.8Q507.4 549.6 511.6 548.0"/>
<path class="l" d="M511.2 554.9Q509.6 550.6 513.8 549.0"/>
<path class="l" d="M513.5 555.9Q511.9 551.6 516.1 550.0"/>
<path class="l" d="M515.7 556.9Q514.1 552.6 518.3 551.0"/>
<path class="l" d="M518.0 557.9Q516.3 553.7 520.6 552.0"/>
<path class="l" d="M520.2 558.9Q518.6 554.7 522.8 553.1"/>
<path class="l" d="M522.4 559.9Q520.8 555.7 525.1 554.1"/>
<ellipse class="lf" cx="528.0" cy="559.0" rx="4.8" ry="8.0" transform="rotate(24.251328679253838 528.029484887005 559.0355600233537)"/>
<path class="lf" d="M524.7 566.3L530.2 568.8L536.8 554.2L531.3 551.7Z" style="stroke:none"/>
<path class="l" d="M524.7 566.3L530.2 568.8"/>
<path class="l" d="M531.3 551.7L536.8 554.2"/>
<ellipse class="lf" cx="533.5" cy="561.5" rx="4.8" ry="8.0" transform="rotate(24.251328679253838 533.5 561.5)" style="stroke-width:1.4"/>
<path class="l" d="M522.6 561L528 563.4"/>
<path class="l" d="M525.9 553.7L531.3 556.1"/>
<path class="l" d="M529.3 568.1L535.5 588"/>
<text class="t" transform="translate(533.98 608.67) scale(0.841 1)" font-size="23.16">8</text>
<path class="lf" d="M297.1 715.7L289.4 720.4L281.8 715.7L281.8 706.5L289.4 701.9L297.1 706.5Z" style="stroke-width:1.45"/>
<ellipse class="l" cx="290.9" cy="712.4" rx="4.4" ry="5.1" style="stroke-width:1.45"/>
<path class="l" d="M280 682.7L284.8 699.7"/>
<text class="t" transform="translate(272.29 675.76) scale(0.816 1)" font-size="23.59">6</text>
<path class="ds" d="M297.5 716.5L322 731"/>
<path class="ds" d="M353.5 750L366 757.5L366 800.7L399 818"/>
<path class="lf" d="M397.8 824.3L419.5 834.7L422.5 828.3L400.8 817.9Z"/>
<ellipse class="lf" cx="399.3" cy="821.1" rx="2.1" ry="3.5" transform="rotate(25.60666098830906 399.3 821.1)"/>
<path class="l" d="M400.2 825.4Q398.6 820.7 403.2 819.1"/>
<path class="l" d="M402.6 826.6Q401.0 821.9 405.6 820.3"/>
<path class="l" d="M405.0 827.7Q403.4 823.1 408.0 821.4"/>
<path class="l" d="M407.4 828.9Q405.8 824.2 410.5 822.6"/>
<path class="l" d="M409.8 830.0Q408.2 825.4 412.9 823.7"/>
<path class="l" d="M412.3 831.2Q410.6 826.5 415.3 824.9"/>
<path class="l" d="M414.7 832.3Q413.0 827.7 417.7 826.0"/>
<path class="l" d="M417.1 833.5Q415.4 828.8 420.1 827.2"/>
<ellipse class="lf" cx="425.2" cy="834.5" rx="5.6" ry="9.3" transform="rotate(25.60666098830906 425.2100685434781 834.4854706383489)"/>
<path class="lf" d="M421.2 842.9L427.5 845.9L435.5 829.1L429.2 826.1Z" style="stroke:none"/>
<path class="l" d="M421.2 842.9L427.5 845.9"/>
<path class="l" d="M429.2 826.1L435.5 829.1"/>
<ellipse class="lf" cx="431.5" cy="837.5" rx="5.6" ry="9.3" transform="rotate(25.60666098830906 431.5 837.5)" style="stroke-width:1.4"/>
<path class="l" d="M418.8 836.6L425.1 839.6"/>
<path class="l" d="M422.8 828.2L429.1 831.2"/>
<path class="l" d="M454.2 801.7L436.5 828.6"/>
<text class="t" transform="translate(452.12 798.80) scale(0.766 1)" font-size="24.13">4</text>
<path class="l" d="M455.1 981.7C455.1 970.1 454.8 924.8 455.1 912C455.4 899.2 455.4 907 457 905C458.6 903 461.4 901.7 465 900C468.6 898.3 475.1 895.8 478.4 895C481.6 894.2 483 894.9 484.5 895.5C486 896.1 487.1 898 487.6 898.5"/>
<path class="l" d="M487.6 898.5L487.6 922.9"/>
<path class="l" d="M462.9 912L462.9 984.8"/>
<path class="l" d="M462.9 912C463.2 911.2 463.8 908.7 465 907.5C466.2 906.3 469.2 905.4 470 905"/>
<path class="l" d="M462.9 912L538.7 955.4"/>
<path class="l" d="M457 906L540 951.5"/>
<path class="l" d="M538.7 955.4C539.3 955.9 541.7 957.1 542.5 958.5C543.3 959.9 543.3 963.1 543.5 964"/>
<path class="l" d="M540 951.5C540.9 952.2 544.4 953.6 545.5 955.5C546.6 957.4 546.3 961.8 546.5 963"/>
<path class="l" d="M546.5 963L546.5 1031.2"/>
<path class="l" d="M540.5 966L540.5 1033"/>
<path class="l" d="M546.5 1031.2C545.6 1032.6 543.6 1038 541 1039.5C538.4 1041 534.8 1040.9 531 1040.5C527.2 1040.1 521.3 1038.9 518 1037C514.7 1035.1 512.5 1033.5 511 1029C509.6 1024.5 509.1 1016.5 509.3 1010C509.5 1003.5 510.2 995.8 512 990C513.8 984.2 515.8 979 520 975C524.2 971 533.3 968 537.2 966.2C541.1 964.4 542.5 964.4 543.5 964"/>
<path class="l" d="M455.1 981.7L509.8 1009.6"/>
<ellipse class="l" cx="478.4" cy="910.5" rx="3.5" ry="4.5" transform="rotate(25 478.4 910.5)"/>
<ellipse class="l" cx="523.3" cy="1005.0" rx="4.0" ry="5.2" transform="rotate(25 523.3 1005)"/>
<path class="l" d="M470.6 859.4L478.4 887.3"/>
<path class="k" d="M467.16 852.90L470.42 852.90L470.42 836.50L467.76 836.50L464.40 840.65L464.20 843.02L467.16 840.85Z"/>
<text class="t" transform="translate(472.83 852.67) scale(0.821 1)" font-size="23.16">9</text>
<ellipse class="lf" cx="401.2" cy="933.7" rx="11.0" ry="11.6" style="stroke-width:1.45"/>
<path class="lf" d="M407.9 937.5L400.1 942.2L392.4 937.5L392.4 928.1L400.1 923.4L407.9 928.1Z" style="stroke-width:1.45"/>
<ellipse class="gd" cx="401.6" cy="934.1" rx="4.5" ry="5.2" style="stroke-width:1.45"/>
<path class="l" d="M397.2 896.6L401 915.1"/>
<text class="t" transform="translate(382.99 891.90) scale(0.876 1)" font-size="23.21">2</text>
<text class="t" transform="translate(393.93 891.67) scale(0.830 1)" font-size="23.21">5</text>
<path class="d" d="M410.2 939.9L565 1028.1"/>
<path class="d" d="M481.5 910.5L565 957"/>
<path class="lf" d="M563.3 963L584.4 973.6L587.6 967.4L566.5 956.8Z"/>
<ellipse class="lf" cx="564.9" cy="959.9" rx="2.1" ry="3.5" transform="rotate(26.673565781256904 564.9 959.9)"/>
<path class="l" d="M565.7 964.2Q564.1 959.5 568.8 958.0"/>
<path class="l" d="M568.0 965.4Q566.5 960.7 571.2 959.1"/>
<path class="l" d="M570.4 966.6Q568.8 961.9 573.5 960.3"/>
<path class="l" d="M572.7 967.7Q571.2 963.0 575.8 961.5"/>
<path class="l" d="M575.1 968.9Q573.5 964.2 578.2 962.7"/>
<path class="l" d="M577.4 970.1Q575.8 965.4 580.5 963.8"/>
<path class="l" d="M579.7 971.3Q578.2 966.6 582.9 965.0"/>
<path class="l" d="M582.1 972.4Q580.5 967.8 585.2 966.2"/>
<ellipse class="lf" cx="591.0" cy="973.0" rx="5.4" ry="9.0" transform="rotate(26.673565781256904 590.9683444977951 972.9698792263805)"/>
<path class="lf" d="M586.9 981L593 984L601 968L595 964.9Z" style="stroke:none"/>
<path class="l" d="M586.9 981L593 984"/>
<path class="l" d="M595 964.9L601 968"/>
<ellipse class="lf" cx="597.0" cy="976.0" rx="5.4" ry="9.0" transform="rotate(26.673565781256904 597 976)" style="stroke-width:1.4"/>
<path class="l" d="M584.8 974.9L590.8 977.9"/>
<path class="l" d="M588.8 966.8L594.8 969.9"/>
<path class="l" d="M603.7 972.4L620.8 964.7"/>
<text class="t" transform="translate(621.30 970.10) scale(0.833 1)" font-size="23.93">2</text>
<text class="t" transform="translate(631.79 969.86) scale(0.874 1)" font-size="23.59">0</text>
<path class="l" d="M375.7 1051.1C375.1 1050.1 372.1 1047.8 372 1045C371.9 1042.2 373.3 1037.1 375 1034C376.7 1030.9 378.8 1028.2 382 1026.5C385.2 1024.8 392.2 1024.5 394.3 1024.1"/>
<path class="l" d="M394.3 1024.1L440.7 1027.9"/>
<path class="l" d="M440.7 1027.9L471.7 1044.9"/>
<path class="l" d="M471.7 1044.9L496.5 1080.5"/>
<path class="l" d="M496.5 1080.5C496.8 1082.1 498.5 1086.1 498.5 1090C498.5 1093.9 498.1 1100.4 496.5 1104C494.9 1107.6 491.6 1110 489 1111.5C486.4 1113 482.3 1112.8 481 1113"/>
<path class="l" d="M481 1113L375.7 1051.1"/>
<path class="l" d="M378 1050C377.6 1048.8 375.3 1045.8 375.5 1043C375.7 1040.2 377.4 1035.5 379 1033C380.6 1030.5 384 1028.8 385 1028"/>
<ellipse class="l" cx="385.0" cy="1040.2" rx="4.8" ry="5.8" transform="rotate(25 385 1040.2)"/>
<ellipse class="l" cx="487.2" cy="1099.1" rx="4.6" ry="5.6" transform="rotate(25 487.2 1099.1)"/>
<path class="l" d="M354 1058.8L366.4 1054.2"/>
<text class="t" transform="translate(333.32 1066.90) scale(0.813 1)" font-size="23.93">2</text>
<path class="k" d="M348.68 1066.90L352.00 1066.90L352.00 1050.20L349.29 1050.20L345.87 1054.43L345.66 1056.84L348.68 1054.63Z"/>
<path class="d" d="M232.2 952.7L371 1032.5"/>
<path class="d" d="M391 1045L399 1049.5"/>
<path class="d" d="M403.6 1052.6L403.6 1110L447 1133"/>
<path class="d" d="M498 1075.9L569.2 1034"/>
<path class="d" d="M496.5 1106.8L528 1125"/>
<path class="lf" d="M447.7 1139.3L469.9 1150.2L473.1 1143.8L450.9 1132.9Z"/>
<ellipse class="lf" cx="449.3" cy="1136.1" rx="2.2" ry="3.6" transform="rotate(26.150622386470683 449.3 1136.1)"/>
<path class="l" d="M450.2 1140.5Q448.5 1135.7 453.4 1134.1"/>
<path class="l" d="M452.6 1141.8Q451.0 1136.9 455.8 1135.3"/>
<path class="l" d="M455.1 1143.0Q453.5 1138.1 458.3 1136.5"/>
<path class="l" d="M457.6 1144.2Q455.9 1139.4 460.8 1137.7"/>
<path class="l" d="M460.0 1145.4Q458.4 1140.6 463.2 1138.9"/>
<path class="l" d="M462.5 1146.6Q460.9 1141.8 465.7 1140.1"/>
<path class="l" d="M465.0 1147.8Q463.3 1143.0 468.2 1141.3"/>
<path class="l" d="M467.4 1149.0Q465.8 1144.2 470.6 1142.6"/>
<ellipse class="lf" cx="475.8" cy="1149.9" rx="6.0" ry="10.0" transform="rotate(26.150622386470683 475.7677110473012 1149.8945067754767)"/>
<path class="lf" d="M471.4 1158.9L478.1 1162.2L486.9 1144.2L480.2 1140.9Z" style="stroke:none"/>
<path class="l" d="M471.4 1158.9L478.1 1162.2"/>
<path class="l" d="M480.2 1140.9L486.9 1144.2"/>
<ellipse class="lf" cx="482.5" cy="1153.2" rx="6.0" ry="10.0" transform="rotate(26.150622386470683 482.5 1153.2)" style="stroke-width:1.4"/>
<path class="l" d="M468.9 1152.1L475.6 1155.4"/>
<path class="l" d="M473.3 1143.1L480 1146.4"/>
<path class="l" d="M453 1148.6L445.4 1164"/>
<text class="t" transform="translate(437.62 1177.90) scale(0.786 1)" font-size="23.98">4</text>
<path class="l" d="M546 1117.5C544.8 1117.1 541.4 1115 539 1115.3C536.6 1115.6 533.4 1117.2 531.5 1119.5C529.6 1121.8 528.1 1125.9 527.5 1129C526.9 1132.1 527 1135.4 527.8 1138C528.6 1140.6 530.3 1142.9 532.5 1144.5C534.7 1146.1 539.6 1147 541 1147.5"/>
<path class="l" d="M546 1117.5L552 1121.5"/>
<ellipse class="lf" cx="547.0" cy="1133.8" rx="9.2" ry="13.4" transform="rotate(-15 547 1133.8)"/>
<ellipse class="l" cx="547.6" cy="1134.3" rx="7.9" ry="12.0" transform="rotate(-15 547.6 1134.3)"/>
<path class="lf" d="M550 1124.5L557.5 1127L560 1147L551.5 1146Z" style="stroke:none"/>
<path class="l" d="M550.5 1124.5L557 1127"/>
<path class="l" d="M549.5 1146.5L553 1148.3"/>
<ellipse class="lf" cx="554.4" cy="1137.6" rx="7.6" ry="10.9" transform="rotate(-15 554.4 1137.6)"/>
<ellipse class="l" cx="555.0" cy="1138.2" rx="5.8" ry="9.0" transform="rotate(-15 555 1138.2)"/>
<path class="l" d="M550.7 1120.7L577 1102.2"/>
<text class="t" transform="translate(577.62 1098.80) scale(0.827 1)" font-size="23.50">2</text>
<text class="t" transform="translate(588.23 1098.55) scale(0.796 1)" font-size="23.13">3</text>
<path class="l" d="M602.5 1132C604.4 1131 610.4 1127.3 614 1126C617.6 1124.7 620.3 1124 624 1124C627.7 1124 632.6 1125 636 1126C639.4 1127 641.6 1127.8 644.5 1129.8C647.4 1131.8 652 1136.4 653.5 1137.7"/>
<path class="l" d="M596.8 1137C595 1138.8 589 1143.7 586 1148C583 1152.3 580.7 1156.9 578.6 1162.7C576.5 1168.5 573.7 1176.3 573.5 1183.1C573.3 1189.9 575.1 1198.2 577.5 1203.5C579.9 1208.8 584.1 1212.1 587.7 1214.9C591.3 1217.8 595.3 1219.1 599 1220.6C602.7 1222.1 608.2 1223.4 610 1224"/>
<ellipse class="lf" cx="628.0" cy="1179.5" rx="28.0" ry="49.0" transform="rotate(32 628 1179.5)"/>
<ellipse class="l" cx="628.5" cy="1180.0" rx="26.0" ry="46.5" transform="rotate(32 628.5 1180)"/>
<ellipse class="l" cx="628.0" cy="1180.0" rx="20.0" ry="38.0" transform="rotate(32 628 1180)"/>
<ellipse class="l" cx="625.5" cy="1179.0" rx="13.0" ry="24.0" transform="rotate(32 625.5 1179)"/>
<ellipse class="l" cx="625.0" cy="1179.0" rx="11.0" ry="21.0" transform="rotate(32 625 1179)"/>
<ellipse class="l" cx="623.0" cy="1178.5" rx="8.5" ry="16.0" transform="rotate(32 623 1178.5)"/>
<ellipse class="l" cx="621.5" cy="1178.0" rx="5.0" ry="10.0" transform="rotate(32 621.5 1178)"/>
<path class="l" d="M646 1188.9L634.1 1189.3L635.7 1202.3" style="stroke-width:1.4"/>
<path class="l" d="M629.4 1207.9L622.8 1199L617.8 1213.5" style="stroke-width:1.4"/>
<path class="l" d="M612.2 1213.8L612.8 1199.4L604.6 1209" style="stroke-width:1.4"/>
<path class="l" d="M602.4 1203.9L608.7 1190.2L602.3 1190.9" style="stroke-width:1.4"/>
<path class="l" d="M604.5 1182.8L612.4 1175.7L612.1 1167.7" style="stroke-width:1.4"/>
<path class="l" d="M617.7 1160.4L622.3 1162.9L629.3 1150.3" style="stroke-width:1.4"/>
<path class="l" d="M635.7 1147.2L633.7 1157.5L645.9 1146.7" style="stroke-width:1.4"/>
<path class="l" d="M650.1 1149.3L641.2 1162.2L654.1 1158.7" style="stroke-width:1.4"/>
<path class="l" d="M654.1 1165.8L641.4 1174.8L650.1 1180.7" style="stroke-width:1.4"/>
<ellipse class="l" cx="632.3" cy="1183.9" rx="2.0" ry="2.6" style="stroke-width:1.3"/>
<ellipse class="l" cx="625.0" cy="1192.1" rx="2.0" ry="2.6" style="stroke-width:1.3"/>
<ellipse class="l" cx="617.2" cy="1195.2" rx="2.0" ry="2.6" style="stroke-width:1.3"/>
<ellipse class="l" cx="612.1" cy="1192.0" rx="2.0" ry="2.6" style="stroke-width:1.3"/>
<ellipse class="l" cx="611.5" cy="1183.7" rx="2.0" ry="2.6" style="stroke-width:1.3"/>
<ellipse class="l" cx="615.7" cy="1173.5" rx="2.0" ry="2.6" style="stroke-width:1.3"/>
<ellipse class="l" cx="623.0" cy="1165.3" rx="2.0" ry="2.6" style="stroke-width:1.3"/>
<ellipse class="l" cx="630.8" cy="1162.2" rx="2.0" ry="2.6" style="stroke-width:1.3"/>
<ellipse class="l" cx="635.9" cy="1165.4" rx="2.0" ry="2.6" style="stroke-width:1.3"/>
<ellipse class="l" cx="636.5" cy="1173.7" rx="2.0" ry="2.6" style="stroke-width:1.3"/>
<ellipse class="l" cx="625.5" cy="1179.0" rx="13.0" ry="24.0" transform="rotate(32 625.5 1179)" style="stroke-width:1.5"/>
<path class="l" d="M553.2 1241.6L580.7 1215.6"/>
<text class="t" transform="translate(535.10 1256.00) scale(0.838 1)" font-size="23.78">2</text>
<text class="t" transform="translate(545.72 1256.00) scale(0.838 1)" font-size="23.78">2</text>
<path class="lf" d="M660.1 1205.7L684.5 1218.6L688.9 1210.2L664.5 1197.3Z"/>
<ellipse class="lf" cx="662.3" cy="1201.5" rx="2.9" ry="4.8" transform="rotate(27.864894440206715 662.3 1201.5)"/>
<path class="l" d="M663.1 1207.3Q661.2 1200.9 667.6 1198.9"/>
<path class="l" d="M666.2 1208.9Q664.2 1202.5 670.6 1200.5"/>
<path class="l" d="M669.2 1210.5Q667.3 1204.1 673.7 1202.1"/>
<path class="l" d="M672.3 1212.1Q670.3 1205.7 676.7 1203.8"/>
<path class="l" d="M675.3 1213.8Q673.4 1207.3 679.8 1205.4"/>
<path class="l" d="M678.4 1215.4Q676.4 1209.0 682.8 1207.0"/>
<path class="l" d="M681.4 1217.0Q679.5 1210.6 685.9 1208.6"/>
<ellipse class="lf" cx="694.8" cy="1217.7" rx="7.3" ry="12.2" transform="rotate(27.864894440206715 694.8109226597012 1217.7233976356617)"/>
<path class="lf" d="M689.1 1228.5L697.2 1232.8L708.6 1211.2L700.5 1206.9Z" style="stroke:none"/>
<path class="l" d="M689.1 1228.5L697.2 1232.8"/>
<path class="l" d="M700.5 1206.9L708.6 1211.2"/>
<ellipse class="lf" cx="702.9" cy="1222.0" rx="7.3" ry="12.2" transform="rotate(27.864894440206715 702.9 1222)" style="stroke-width:1.4"/>
<path class="l" d="M686.3 1220.1L694.4 1224.4"/>
<path class="l" d="M692 1209.4L700.1 1213.6"/>
<path class="l" d="M718 1213.3L748.3 1205.5"/>
<text class="t" transform="translate(752.04 1206.90) scale(0.784 1)" font-size="23.93">2</text>
<text class="t" transform="translate(762.43 1206.90) scale(0.731 1)" font-size="24.27">4</text>
<path class="l" d="M862.9 837.2C864.1 836.3 867.1 833.4 870 832C872.9 830.6 876.6 828.8 880.4 828.9C884.2 829 888.3 829.8 892.8 832.5C897.3 835.2 903.1 840.4 907.2 844.9C911.3 849.4 915 854.1 917.6 859.4C920.2 864.7 921.8 872.6 922.7 876.9C923.6 881.2 923.1 883.8 923.2 885.2"/>
<path class="l" d="M923.2 885.2L923.2 1095.7"/>
<path class="l" d="M923.2 1095.7C922.8 1097.6 922.3 1103.9 920.7 1107C919.1 1110.1 916.5 1112 913.4 1114.3C910.3 1116.5 904 1119.5 902.1 1120.5"/>
<path class="l" d="M906.2 892.9L923.2 884.1"/>
<path class="l" d="M906.2 1103L923.2 1095.7"/>
<path class="l" d="M868 839.3L869.5 839.8L871.5 840.5L874 841.4L876.6 842.4L879.1 843.6L881.4 844.9L883.4 846.4L885.4 848.2L887.4 850L889.2 852.1L891 854.2L892.8 856.3L894.5 858.5L896.2 860.9L897.9 863.3L899.5 865.8L900.9 868.3L902.1 870.7L903.1 873.2L904 875.7L904.7 878.2L905.3 880.7L905.8 883.1L906.2 885.2L906.4 887.2L906.5 889.2L906.5 891L906.4 892.6L906.2 894L906.2 895L906.2 1112"/>
<path class="l" d="M867 841.5L868.4 842L870.5 842.7L872.8 843.6L875.4 844.6L877.8 845.7L880 847L881.9 848.5L883.7 850.1L885.5 852L887.2 853.9L888.9 855.9L890.5 858L892.1 860.2L893.8 862.4L895.4 864.8L896.9 867.2L898.3 869.6L899.5 872L900.5 874.4L901.3 876.9L902 879.3L902.5 881.7L902.9 884L903.3 886L903.5 887.9L903.6 889.7L903.5 891.4L903.4 892.9L903.3 894.1L903.3 895L903.3 1113"/>
<path class="l" d="M906.2 1108C906 1109.3 905.9 1113.8 905 1116C904.1 1118.2 901.7 1120.6 901 1121.5"/>
<path class="l" d="M847.4 862L847.7 857.9L848.5 854L849.9 850.2L851.8 846.9L854 844L856.7 841.6L859.6 839.9L862.8 838.9L866 838.5"/>
<path class="l" d="M847.4 862L847.4 1071"/>
<path class="l" d="M847.4 1071L848.2 1079.9L850.8 1088.4L854.8 1096.5L860.4 1103.8L867.3 1110.1L875.2 1115.2L884 1118.9L893.3 1121.2L903 1122"/>
<path class="l" d="M850.8 859.5L851 855.9L851.7 852.3L852.8 849L854.3 846L856.2 843.4L858.4 841.3L860.8 839.8L863.4 838.8L866 838.5"/>
<path class="l" d="M850.8 859.5L850.8 1071"/>
<path class="l" d="M850.8 1071L851.5 1079.5L853.9 1087.7L857.8 1095.4L863 1102.4L869.4 1108.4L876.9 1113.3L885.1 1116.9L893.9 1119.1L903 1119.8"/>
<path class="l" d="M854.1 857L854.3 853.8L854.8 850.7L855.7 847.8L856.9 845.1L858.4 842.8L860 841L861.9 839.6L863.9 838.8L866 838.5"/>
<path class="l" d="M854.1 857L854.1 1071"/>
<path class="l" d="M854.1 1071L854.8 1079.1L857 1087L860.7 1094.3L865.5 1101L871.6 1106.7L878.5 1111.4L886.3 1114.9L894.5 1117L903 1117.7"/>
<path class="l" d="M857.4 854.5L857.6 851.7L858 849L858.6 846.5L859.5 844.2L860.5 842.2L861.7 840.6L863.1 839.5L864.5 838.7L866 838.5"/>
<path class="l" d="M857.4 854.5L857.4 1071"/>
<path class="l" d="M857.4 1071L858.1 1078.7L860.2 1086.2L863.6 1093.2L868.1 1099.6L873.7 1105.1L880.2 1109.5L887.4 1112.8L895.1 1114.8L903 1115.5"/>
<path class="l" d="M860.8 852L860.9 849.7L861.1 847.4L861.5 845.2L862 843.3L862.7 841.7L863.4 840.3L864.2 839.3L865.1 838.7L866 838.5"/>
<path class="l" d="M860.8 852L860.8 1071"/>
<path class="l" d="M860.8 1071L861.4 1078.4L863.3 1085.5L866.5 1092.2L870.7 1098.2L875.9 1103.4L881.9 1107.7L888.6 1110.8L895.7 1112.7L903 1113.3"/>
<path class="l" d="M864.1 849.5L864.2 847.6L864.3 845.7L864.4 844L864.6 842.4L864.8 841.1L865.1 840L865.4 839.2L865.7 838.7L866 838.5"/>
<path class="l" d="M864.1 849.5L864.1 1071"/>
<path class="l" d="M864.1 1071L864.7 1078L866.5 1084.7L869.4 1091.1L873.2 1096.8L878 1101.8L883.6 1105.8L889.7 1108.7L896.3 1110.6L903 1111.2"/>
<path class="l" d="M867.5 847L867.5 845.5L867.4 844.1L867.3 842.8L867.1 841.5L867 840.5L866.8 839.6L866.5 839L866.3 838.6L866 838.5"/>
<path class="l" d="M867.5 847L867.5 1071"/>
<path class="l" d="M867.5 1071L868 1077.6L869.6 1084L872.3 1090L875.8 1095.4L880.2 1100.1L885.2 1103.9L890.9 1106.7L896.8 1108.4L903 1109"/>
<path class="l" d="M801.7 883.5L846 910.1"/>
<text class="t" transform="translate(782.92 883.90) scale(0.818 1)" font-size="23.64">2</text>
<text class="t" transform="translate(793.17 883.67) scale(0.844 1)" font-size="23.31">6</text>
<text class="t" transform="translate(869.18 1214.84) scale(0.784 1)" font-size="23.27">3</text>
<text class="t" transform="translate(879.05 1214.87) scale(0.824 1)" font-size="23.31">8</text>
<text class="t" transform="translate(889.85 1215.10) scale(0.759 1)" font-size="23.98">4</text>
<text class="t" transform="translate(900.46 1214.84) scale(0.784 1)" font-size="23.27">3</text>
<text class="t" transform="translate(910.26 1215.10) scale(0.815 1)" font-size="23.64">2</text>
<g class="alt">
<path class="l" d="M117.5 795C119.9 792.9 126.7 785.2 132 782.3C137.3 779.3 144.6 777.8 149.3 777.3C154.1 776.8 157.1 778 160.5 779.3C163.9 780.6 167.1 783.9 170 785C172.9 786.1 176.7 785.8 178 786"/>
<path class="l" d="M108 806L106.5 807.9L104.4 810.6L101.9 813.8L99.4 817.3L97 820.7L95 824L93.4 827.2L92 830.5L90.8 833.8L89.7 837.1L88.8 840.2L88 843L87.4 845.5L87 847.7L86.7 849.7L86.5 851.7L86.5 853.7L86.5 856L86.6 858.5L86.8 861.3L87.1 864.1L87.4 866.9L87.9 869.5L88.5 872L89.2 874.3L90 876.5L90.9 878.6L91.9 880.5L92.9 882.3L94 884L95.2 885.5L96.4 886.7L97.8 887.8L99.2 888.9L100.6 889.9L102 891L103.5 892.2L105.3 893.6L107 894.9L108.6 896.2L110 897.2L111 898"/>
<path class="l" d="M109.4 807.1L107.9 809.1L105.8 811.7L103.4 814.9L100.8 818.3L98.5 821.7L96.6 824.9L95.1 827.9L93.7 831.1L92.5 834.4L91.4 837.6L90.5 840.7L89.7 843.5L89.1 845.9"/>
<path class="l" d="M108 806L117.5 795"/>
<path class="l" d="M110.5 804L118.5 797"/>
<path class="lf" d="M109 802L116 797L127.7 804L125 813L114 809Z"/>
<path class="l" d="M116 797L113.5 806"/>
<path class="l" d="M113.5 806L125 812"/>
<path class="lk" d="M117 797L127 803"/>
<path class="k" d="M77 838L85 842L83.5 848.5L75.5 844.5Z"/>
<path class="lf" d="M85 840L89 842L87.5 851L83.5 849Z"/>
<path class="l" d="M169.2 788.5L167.9 788.9L166 789.5L164.2 791.6L162.1 792.4L160.1 793.5L157.3 793.6L155.3 795.3L153.3 797.1L152.3 800.1L150.3 802L148.3 803.9L145.2 804.9L143.1 807L141.1 809L140.5 811.8L139.1 813.4L137.9 814.7L135.7 815.1L134.5 816.5L133.3 818.2L133.1 821.1L131.6 823.3L130 825.6L127.2 827.1L125.8 829.3L124.5 831.4L124.4 834.2L123.2 836.1L122 838.1L119.6 839.3L118.5 841.3L117.5 843.3L117.8 845.9L116.9 847.8L116.1 849.8L113.9 851.2L113.2 853.2L112.5 855.1L113.4 857.5L112.9 859.5L112.4 861.4L110.5 863L110.1 865L109.8 866.9L111 869.2L110.8 871.2L110.6 873.3L108.9 875.4L108.9 877.7L108.8 880L110.3 882.6L110.3 885.3L110.3 888L109 890.7L109.2 893L109.6 895L111.5 896.5L112.1 898.1L112.6 899.5L111.5 901"/>
<path class="l" d="M170.2 791L191 803L187.9 808.3L167.1 796.3Z"/>
<path class="l" d="M171.2 794L187.6 803.5"/>
<path class="l" d="M162.5 794.6L183.3 806.6L180.2 811.9L159.4 799.9Z"/>
<path class="l" d="M163.4 797.6L179.9 807.1"/>
<path class="l" d="M156.1 800.4L176.9 812.4L173.8 817.7L153 805.7Z"/>
<path class="l" d="M157.1 803.3L173.5 812.8"/>
<path class="l" d="M149.9 806.3L170.7 818.3L167.6 823.7L146.8 811.7Z"/>
<path class="l" d="M150.9 809.3L167.3 818.8"/>
<path class="l" d="M144 812.5L164.8 824.5L161.7 829.9L140.9 817.9Z"/>
<path class="l" d="M144.9 815.5L161.4 825"/>
<path class="l" d="M138.7 819.3L159.5 831.3L156.4 836.7L135.6 824.7Z"/>
<path class="l" d="M139.6 822.3L156.1 831.8"/>
<path class="l" d="M133.9 826.4L150.3 835.9L147.2 841.3L130.8 831.8Z"/>
<path class="l" d="M134.8 829.4L146.9 836.4"/>
<path class="lk" d="M127.6 835.3L147.1 845.6"/>
<path class="lk" d="M123.3 842.7L142.7 853.1"/>
<path class="lk" d="M119.6 850.5L139 860.8"/>
<path class="l" d="M118.2 857L139.8 867.5L137.2 872.9L115.6 862.4Z"/>
<path class="l" d="M119.4 860L136.5 868.3"/>
<path class="l" d="M116.5 865.4L138.1 875.9L135.4 881.3L113.9 870.8Z"/>
<path class="l" d="M117.7 868.4L134.7 876.7"/>
<path class="l" d="M115.7 874L137.3 884.5L134.7 889.9L113.1 879.3Z"/>
<path class="l" d="M116.9 876.9L134 885.3"/>
<path class="l" d="M115.6 882.5L137.2 893.1L134.5 898.5L113 887.9Z"/>
<path class="l" d="M116.8 885.5L133.9 893.9"/>
<path class="l" d="M116.2 891.1L137.8 901.6L135.2 907L113.6 896.5Z"/>
<path class="l" d="M117.4 894.1L134.5 902.4"/>
<path class="lf" d="M104 903L109 898L116 900L127 906L136 912L135 921L128 924L113 918L107 912Z"/>
<path class="lf" d="M112.4 905.2L107.9 907.9L103.4 905.2L103.4 899.8L107.9 897L112.4 899.8Z" style="stroke-width:1.45"/>
<ellipse class="gd" cx="108.8" cy="903.3" rx="2.6" ry="3.0" style="stroke-width:1.45"/>
<path class="l" d="M118 906L135 914"/>
<path class="l" d="M113 914L130 922"/>
<path class="l" d="M127 924L140 931"/>
<path class="l" d="M134 915L149 923"/>
<path class="k" d="M150.5 851.5L151.8 849.7L153.6 847L155.7 844L157.9 841L159.9 838.3L161.8 836L163.6 833.9L165.4 831.9L167.3 829.9L169.2 828L171.2 826.1L173.2 824.2L175.3 822.3L177.4 820.5L179.5 818.7L181.6 816.9L183.7 815.2L185.7 813.5L187.8 811.9L189.9 810.5L192 809.3L194.2 808.2L196.4 807.2L198.4 806.4L200.2 805.8L201.7 805.4L203.1 805.1L204.2 805L205.3 804.9L206.4 804.8L207.5 804.7L208.6 804.7L209.6 804.6L210.4 804.6L211 804.6L208 807.5L206.9 808L205.3 808.6L203.4 809.3L201.7 810.3L200.2 811.5L199.1 813L198.3 814.8L197.5 816.8L196.8 818.8L196 820.8L195.2 822.8L194.5 824.9L193.7 827L192.9 829.1L191.9 831.1L190.8 833L189.7 834.9L188.4 836.8L187.1 838.6L185.7 840.4L184.2 842.2L182.6 843.9L180.9 845.6L179.2 847.2L177.5 848.7L175.8 850.1L174.1 851.5L172.4 852.8L170.8 853.9L169.2 854.9L167.6 855.7L165.9 856.4L164.3 857L163 857.5L162 857.8Z"/>
<path class="k" d="M147.5 857.5C144.2 859 144 865.4 142.5 870C141 874.6 139.3 880.8 138.5 885C137.7 889.2 137.7 891.8 137.7 895C137.7 898.2 137.4 901.1 138.3 904.5C139.2 907.9 141 912.3 143.3 915.6C145.6 918.9 149.3 922.3 151.9 924.3C154.5 926.3 158.1 929 158.7 927.4C159.3 925.8 156.2 918.6 155.6 914.4C155 910.2 154.8 906.1 155 902C155.2 897.9 155.8 894.5 156.5 890C157.2 885.5 158.6 879.8 159.5 875C160.4 870.2 164 863.9 162 861C160 858.1 150.8 856 147.5 857.5Z"/>
<path class="l" d="M140 851L199 879"/>
<path class="l" d="M146 861L199 887"/>
<path class="lk" d="M156 859L185 872"/>
<path class="lk" d="M160 868L190 882"/>
<path class="l" d="M158 927L163 933L163 940L177 948"/>
<path class="l" d="M131 959L147 951"/>
<path class="l" d="M157 945.4L162 942.3"/>
<path class="l" d="M179.9 785C180.2 784.6 180.7 782.8 182 782.4C183.3 782 186.1 781.8 188 782.4C189.9 783 192.6 785.4 193.5 786"/>
<path class="l" d="M193.5 786L199 788.5"/>
<path class="lk" d="M199.7 789.2L218.3 799.7"/>
<path class="l" d="M192.3 795.4L213.3 805.9"/>
<path class="l" d="M218.3 799.7L216 806"/>
<path class="l" d="M216 806L230 811"/>
<path class="lk" d="M229.4 808.4L250.5 818.3"/>
<path class="l" d="M233 817L249 827"/>
<path class="l" d="M228 813L233 817"/>
<path class="l" d="M254 826C254.2 825 254.2 821.2 255 820C255.8 818.8 258 818 259 818.5C260 819 261.2 820.9 261 823C260.8 825.1 258.5 829.7 258 831"/>
<path class="l" d="M202 807L214 818"/>
<path class="l" d="M197.2 822L190 850"/>
<path class="l" d="M206 818L198 846"/>
<ellipse class="lf" cx="218.3" cy="827.6" rx="8.5" ry="9.8" transform="rotate(25 218.3 827.6)"/>
<ellipse class="k" cx="217.8" cy="827.3" rx="3.2" ry="3.8"/>
<path class="l" d="M199 813C199.8 812.8 202.2 811.7 204 812C205.8 812.3 209 814.5 210 815"/>
<path class="l" d="M223.8 827.7L236.5 833.6L234.8 837.2L222.2 831.3Z"/>
<path class="l" d="M228.8 832.2L241.5 838.1L239.8 841.7L227.2 835.8Z"/>
<path class="l" d="M233.8 836.2L244.7 841.3L243 844.9L232.2 839.8Z"/>
<path class="l" d="M198.8 848.1L211.8 853.3L210.2 857.2L197.2 851.9Z"/>
<path class="l" d="M194.8 855.1L207.8 860.3L206.2 864.2L193.2 858.9Z"/>
<path class="l" d="M191.8 862.1L204.8 867.3L203.2 871.2L190.2 865.9Z"/>
<path class="l" d="M172.8 882.1L189.5 888.8L187.9 892.7L171.2 885.9Z"/>
<path class="l" d="M171.8 890.1L188.5 896.8L186.9 900.7L170.2 893.9Z"/>
<path class="l" d="M170.8 898.1L187.5 904.8L185.9 908.7L169.2 901.9Z"/>
<path class="l" d="M170.8 906.1L187.5 912.8L185.9 916.7L169.2 909.9Z"/>
<path class="l" d="M170.8 914.1L187.5 920.8L185.9 924.7L169.2 917.9Z"/>
<path class="l" d="M171.8 922.1L188.5 928.8L186.9 932.7L170.2 925.9Z"/>
<path class="l" d="M173.8 930.1L190.5 936.8L188.9 940.7L172.2 933.9Z"/>
<path class="l" d="M176.8 937.1L191.6 943L190 946.9L175.2 940.9Z"/>
<path class="lk" d="M178 944L195 953"/>
<ellipse class="lf" cx="229.1" cy="892.4" rx="29.6" ry="62.2" transform="rotate(31.6 229.1 892.4)"/>
<ellipse class="l" cx="229.4" cy="892.7" rx="27.0" ry="59.2" transform="rotate(31.6 229.4 892.6999999999999)"/>
<ellipse class="l" cx="230.6" cy="893.9" rx="22.6" ry="52.2" transform="rotate(31.6 230.6 893.9)"/>
<path class="l" d="M221.9 867.6L227.3 885.2"/>
<path class="l" d="M227.6 861.4L230.8 882.1"/>
<path class="l" d="M249.7 848.1L238 879.2"/>
<path class="l" d="M254.2 848.1L240.9 879.7"/>
<path class="l" d="M263.9 861.3L244.5 884.7"/>
<path class="l" d="M263.9 867.5L244.8 888.5"/>
<path class="l" d="M200.3 905.9L220 898.5"/>
<path class="l" d="M203.2 898L221.6 894"/>
<path class="l" d="M199.2 933.8L220.8 908.9"/>
<path class="l" d="M197.7 929.2L219.6 905.8"/>
<path class="l" d="M256.3 893.8L242.8 896.5"/>
<path class="l" d="M252.2 901.8L240.5 900.9"/>
<ellipse class="l" cx="232.1" cy="895.4" rx="10.0" ry="18.0" transform="rotate(31.6 232.1 895.4)"/>
<path class="k" d="M209.5 884L215 882L217 890.5L211.5 892.5Z"/>
<path class="lf" d="M211.5 885.5L214 884.5L215.2 889.5L212.7 890.5Z"/>
<path class="k" d="M216.9 871.8L227.6 877.3L225.1 882.2L214.4 876.7Z"/>
<path class="l" d="M245.4 856.2L250.1 847.4L254.6 849.8L249.9 858.6Z"/>
<path class="l" d="M252.1 861L256.3 853.1L259.9 855L255.7 862.9Z"/>
<path class="l" d="M256 836C256.3 834.8 257 830.5 258 829C259 827.5 260.8 826.5 262 827C263.2 827.5 264.8 829.8 265 832C265.2 834.2 263.3 838.7 263 840"/>
<ellipse class="lf" cx="242.0" cy="901.0" rx="22.8" ry="38.4" transform="rotate(22 242 901)"/>
<ellipse class="l" cx="244.5" cy="902.3" rx="22.8" ry="38.4" transform="rotate(22 244.52342857142858 902.3405714285715)" style="stroke-width:1.8"/>
<ellipse class="l" cx="247.0" cy="903.7" rx="22.8" ry="38.4" transform="rotate(22 247.04685714285714 903.6811428571428)" style="stroke-width:1.8"/>
<ellipse class="l" cx="249.6" cy="905.0" rx="22.8" ry="38.4" transform="rotate(22 249.57028571428572 905.0217142857143)" style="stroke-width:1.8"/>
<ellipse class="l" cx="252.1" cy="906.4" rx="22.8" ry="38.4" transform="rotate(22 252.09371428571427 906.3622857142857)" style="stroke-width:1.8"/>
<ellipse class="l" cx="254.6" cy="907.7" rx="22.8" ry="38.4" transform="rotate(22 254.61714285714285 907.7028571428572)" style="stroke-width:1.8"/>
<ellipse class="l" cx="257.1" cy="909.0" rx="22.8" ry="38.4" transform="rotate(22 257.14057142857143 909.0434285714286)" style="stroke-width:1.8"/>
<ellipse class="lf" cx="261.2" cy="911.2" rx="22.8" ry="38.4" transform="rotate(22 261.2 911.2)"/>
<ellipse class="l" cx="261.5" cy="911.4" rx="20.8" ry="35.8" transform="rotate(22 261.5 911.4000000000001)"/>
<ellipse class="l" cx="261.7" cy="910.9" rx="15.4" ry="28.8" transform="rotate(27 261.7 910.9)"/>
<ellipse class="k" cx="251.0" cy="904.5" rx="6.5" ry="8.5" transform="rotate(22 251 904.5)"/>
<path class="k" d="M246 898.5L255 896L264 906L256 917L248 912Z"/>
<ellipse class="lf" cx="259.8" cy="909.8" rx="5.2" ry="7.2" transform="rotate(22 259.8 909.8)"/>
<ellipse class="l" cx="259.6" cy="910.0" rx="2.8" ry="3.8" transform="rotate(22 259.6 910)"/>
<path class="l" d="M257.5 908.5L262 911.5"/>
<ellipse class="lf" cx="228.0" cy="952.5" rx="9.0" ry="11.0" transform="rotate(20 228 952.5)"/>
<ellipse class="l" cx="229.5" cy="952.0" rx="3.2" ry="3.8" transform="rotate(20 229.5 952)"/>
<path class="l" d="M219 956C219.7 957.1 221 961.2 223 962.5C225 963.8 229.7 963.8 231 964"/>
<path class="l" d="M155 748L151 768"/>
<path class="k" d="M158.40 747.90L161.70 747.90L161.70 731.30L159.00 731.30L155.60 735.50L155.40 737.90L158.40 735.70Z"/>
<path class="lf" d="M71 835.5L65.8 838.7L60.6 835.5L60.6 829.2L65.8 826.1L71 829.2Z" style="stroke-width:1.45"/>
<ellipse class="l" cx="66.8" cy="833.3" rx="3.0" ry="3.5" style="stroke-width:1.45"/>
<path class="l" d="M58 850L64 841"/>
<text class="t" transform="translate(44.82 865.80) scale(0.828 1)" font-size="23.35">2</text>
<path class="lf" d="M91 937.3L83.2 942.1L75.4 937.3L75.4 927.9L83.2 923.1L91 927.9Z" style="stroke-width:1.45"/>
<ellipse class="l" cx="84.8" cy="934.0" rx="4.5" ry="5.2" style="stroke-width:1.45"/>
<path class="l" d="M82 944L77 955"/>
<text class="t" transform="translate(66.73 976.87) scale(0.787 1)" font-size="23.16">6</text>
<ellipse class="lf" cx="109.5" cy="947.5" rx="4.6" ry="6.8" transform="rotate(25 109.5 947.5)" style="stroke-width:1.8"/>
<ellipse class="l" cx="110.0" cy="947.5" rx="2.2" ry="3.4" transform="rotate(25 110 947.5)" style="stroke-width:1.4"/>
<path class="l" d="M103 955L99 966"/>
<text class="t" transform="translate(90.05 991.57) scale(0.758 1)" font-size="23.35">5</text>
<path class="l" d="M92 938L101 943"/>
<path class="l" d="M113 950L127 957"/>
<path class="l" d="M289 876C288.2 875.2 284.7 873 284 871C283.3 869 283.8 865.5 285 864C286.2 862.5 289.2 861.7 291 862C292.8 862.3 295.3 864.2 296 866C296.7 867.8 295.2 871.8 295 873"/>
<path class="l" d="M291 874C290.5 873.2 288.2 870.5 288 869C287.8 867.5 289 865.5 290 865C291 864.5 293.3 865.8 294 866"/>
<path class="l" d="M304.5 846.4L293.1 861.9"/>
<text class="t" transform="translate(306.30 844.67) scale(0.865 1)" font-size="23.16">9</text>
<path class="l" d="M266 857L285 867"/>
<path class="lf" d="M293.9 877.2L313.9 887.5L317.1 881.5L297.1 871.2Z"/>
<ellipse class="lf" cx="295.5" cy="874.2" rx="2.0" ry="3.4" transform="rotate(27.248467426644652 295.5 874.2)"/>
<path class="l" d="M296.4 878.5Q295.0 873.9 299.6 872.5"/>
<path class="l" d="M298.9 879.8Q297.5 875.2 302.1 873.8"/>
<path class="l" d="M301.4 881.1Q300.0 876.5 304.6 875.0"/>
<path class="l" d="M303.9 882.4Q302.5 877.8 307.1 876.3"/>
<path class="l" d="M306.4 883.7Q305.0 879.1 309.6 877.6"/>
<path class="l" d="M308.9 884.9Q307.5 880.4 312.1 878.9"/>
<path class="l" d="M311.4 886.2Q310.0 881.7 314.6 880.2"/>
<ellipse class="lf" cx="319.0" cy="886.2" rx="5.0" ry="8.4" transform="rotate(27.248467426644652 318.99911485191 886.2155441487337)"/>
<path class="lf" d="M315.2 893.7L320.8 896.6L328.4 881.6L322.8 878.7Z" style="stroke:none"/>
<path class="l" d="M315.2 893.7L320.8 896.6"/>
<path class="l" d="M322.8 878.7L328.4 881.6"/>
<ellipse class="lf" cx="324.6" cy="889.1" rx="5.0" ry="8.4" transform="rotate(27.248467426644652 324.6 889.1)" style="stroke-width:1.4"/>
<path class="l" d="M313.2 887.9L318.8 890.8"/>
<path class="l" d="M317 880.5L322.6 883.4"/>
<path class="l" d="M314.8 897L311.7 913.5"/>
<text class="t" transform="translate(305.30 933.35) scale(0.757 1)" font-size="23.13">3</text>
<path class="d" d="M237 955L371 1032.5"/>
</g>
</svg></body></html>
